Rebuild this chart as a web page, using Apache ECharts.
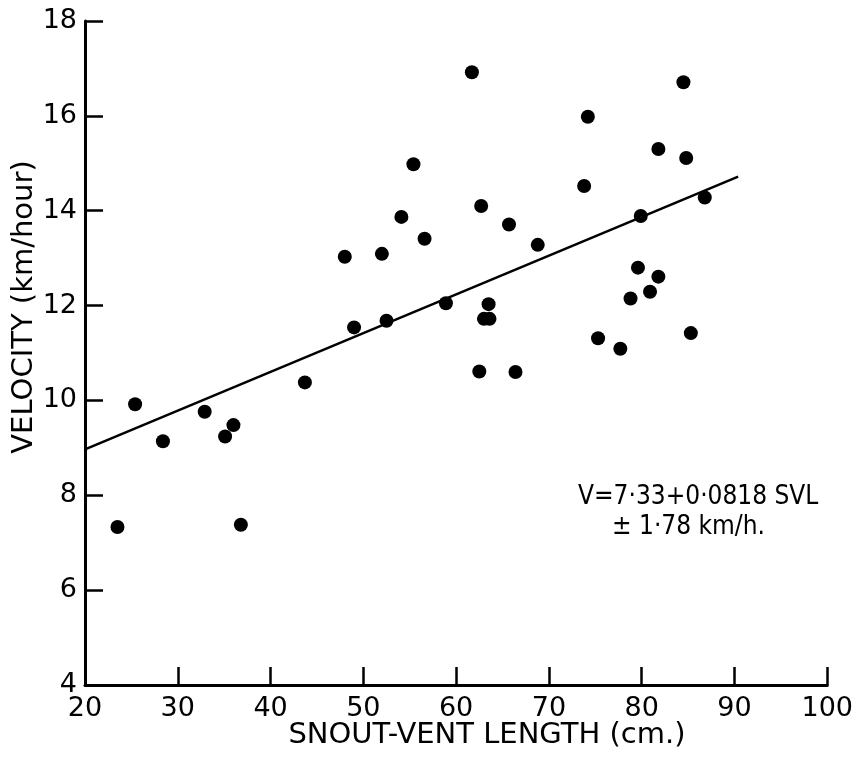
<!DOCTYPE html>
<html><head><meta charset="utf-8">
<script src="https://cdn.jsdelivr.net/npm/echarts@6/dist/echarts.min.js"></script>
<style>html,body{margin:0;padding:0;background:#fff}#c{width:856px;height:762px}</style>
</head><body><div id="c"></div>
<script>
const svl = [23.5,25.4,28.4,32.9,35.1,36.0,36.8,43.7,48.0,49.0,52.0,52.5,54.1,55.4,56.6,58.9,61.7,62.7,62.5,63.0,63.6,63.5,65.7,66.4,68.8,73.8,74.2,75.3,77.7,78.8,79.6,79.9,80.9,81.8,81.8,84.5,84.8,85.3,86.8];
const velocity = [7.33,9.92,9.14,9.76,9.24,9.48,7.38,10.38,13.03,11.54,13.09,11.68,13.87,14.98,13.41,12.05,16.92,14.10,10.61,11.72,11.72,12.03,13.71,10.60,13.28,14.52,15.98,11.31,11.09,12.15,12.80,13.89,12.29,12.61,15.30,16.71,15.11,11.42,14.28];
const fitX = [20, 90.4];
const fitY = [8.97, 14.72];
const xTitle = 'SNOUT-VENT LENGTH (cm.)';
const yTitle = 'VELOCITY (km/hour)';
const eqLines = ['V=7·33+0·0818 SVL', '± 1·78 km/h.'];

const font = '"DejaVu Sans", sans-serif';
const condFont = '"DejaVu Sans Condensed", "Liberation Sans Narrow", "DejaVu Sans", sans-serif';
const chart = echarts.init(document.getElementById('c'));
const axisCommon = {
  axisLine: {show: true, lineStyle: {color: '#000', width: 3}},
  axisTick: {show: true, inside: true, length: 18, lineStyle: {color: '#000', width: 2.5}},
  splitLine: {show: false},
  axisLabel: {color: '#000', fontSize: 27, fontFamily: font}
};
chart.setOption({
  animation: false,
  backgroundColor: '#fff',
  grid: {left: 85, right: 25, top: 21, bottom: 77},
  xAxis: Object.assign({}, axisCommon, {
    type: 'value', min: 20, max: 100, interval: 10,
    axisLabel: Object.assign({}, axisCommon.axisLabel, {margin: 10})
  }),
  yAxis: Object.assign({}, axisCommon, {
    type: 'value', min: 4, max: 18, interval: 2,
    axisLabel: Object.assign({}, axisCommon.axisLabel, {margin: 8})
  }),
  series: [
    {type: 'line', data: fitX.map((x, i) => [x, fitY[i]]), symbol: 'none',
     lineStyle: {color: '#000', width: 2.5}, z: 2},
    {type: 'scatter', data: svl.map((x, i) => [x, velocity[i]]), symbolSize: 14,
     itemStyle: {color: '#000', opacity: 1}, z: 3}
  ],
  graphic: [
    {type: 'text', x: 487, y: 735, style: {text: xTitle, fill: '#000', font: '29px ' + font, align: 'center', verticalAlign: 'middle'}},
    {type: 'text', x: 24, y: 307, rotation: Math.PI / 2, style: {text: yTitle, fill: '#000', font: '29px ' + font, align: 'center', verticalAlign: 'middle'}},
    {type: 'text', x: 578, y: 497, style: {text: eqLines[0], fill: '#000', font: '26px ' + condFont, align: 'left', verticalAlign: 'middle'}},
    {type: 'text', x: 612, y: 527, style: {text: eqLines[1], fill: '#000', font: '26px ' + condFont, align: 'left', verticalAlign: 'middle'}}
  ]
});
</script></body></html>
